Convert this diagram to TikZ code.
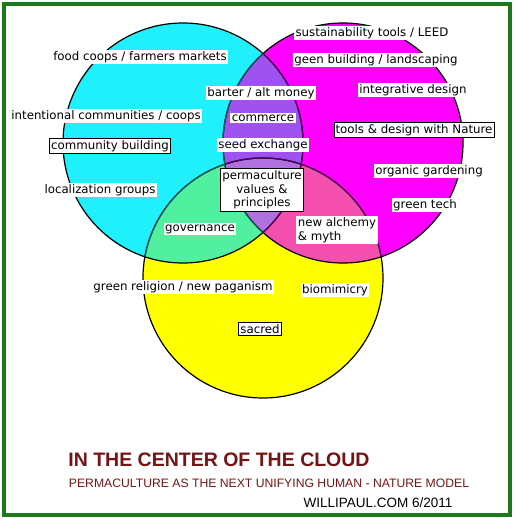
\documentclass[tikz,border=0pt]{standalone}
\usepackage{fontspec}
\setmainfont{DejaVu Sans}
\newfontfamily\titlefont{Liberation Sans}
\usetikzlibrary{positioning}

\definecolor{vcyan}{HTML}{20F0FC}
\definecolor{vmag}{HTML}{FF00FF}
\definecolor{vyel}{HTML}{FFFF00}
\definecolor{vpurple}{HTML}{A052F0}
\definecolor{vmint}{HTML}{50F0A0}
\definecolor{vpink}{HTML}{F550B0}
\definecolor{vcentre}{HTML}{B070E0}
\definecolor{titlered}{HTML}{761414}
\definecolor{framegreen}{HTML}{1C7A1C}

\tikzset{
  lbl/.style={fill=white, inner sep=1.5pt, font=\fontsize{11.8}{13.5}\selectfont},
  boxlbl/.style={lbl, draw=black, line width=0.9pt},
  rim/.style={draw=black, line width=1.2pt},
}

\begin{document}
\begin{tikzpicture}[x=1pt, y=-1pt]
  \useasboundingbox (0,0) rectangle (514,519);

  % circles
  \coordinate (cC) at (183,143);
  \coordinate (cM) at (343,143);
  \coordinate (cY) at (263,278);
  \fill[vcyan] (cC) circle[radius=120pt];
  \fill[vmag] (cM) circle[radius=120pt];
  \fill[vyel] (cY) circle[radius=120pt];
  \begin{scope}
    \clip (cM) circle[radius=120pt];
    \fill[vpink] (cY) circle[radius=120pt];
  \end{scope}
  \begin{scope}
    \clip (cC) circle[radius=120pt];
    \fill[vpurple] (cM) circle[radius=120pt];
    \fill[vmint] (cY) circle[radius=120pt];
    \clip (cM) circle[radius=120pt];
    \fill[vcentre] (cY) circle[radius=120pt];
  \end{scope}

  % outlines
  \draw[rim] (cC) circle[radius=120pt] (cM) circle[radius=120pt] (cY) circle[radius=120pt];
  \begin{scope}
    \clip (cC) circle[radius=120pt];
    \draw[line width=1.2pt, draw=teal!70!black] (cM) circle[radius=120pt] (cY) circle[radius=120pt];
  \end{scope}
  \begin{scope}
    \clip (cM) circle[radius=120pt];
    \draw[line width=1.2pt, draw=violet!70!black] (cC) circle[radius=120pt] (cY) circle[radius=120pt];
  \end{scope}

  % labels
  \node[lbl] (food) at (140,57) {food coops / farmers markets};
  \node[lbl] (intent) at (106,116) {intentional communities / coops};
  \node[boxlbl] (commbuild) at (110,146) {community building};
  \node[lbl] (local) at (100,190) {localization groups};
  \node[lbl] (gov) at (200,229) {governance};
  \node[lbl] (barter) at (261,93) {barter / alt money};
  \node[lbl] (commerce) at (263,118) {commerce};
  \node[lbl] (seed) at (263,145) {seed exchange};
  \node[boxlbl, align=center, inner sep=2pt] (perma) at (262,190) {permaculture\\values \&\\principles};
  \node[lbl, align=left] (alchemy) at (337,230) {new alchemy\\\& myth};
  \node[lbl] (sust) at (372,33) {sustainability tools / LEED};
  \node[lbl] (geen) at (376,60) {geen building / landscaping};
  \node[lbl] (integ) at (413,90) {integrative design};
  \node[boxlbl] (tools) at (414,130) {tools \& design with Nature};
  \node[lbl] (organic) at (429,171) {organic gardening};
  \node[lbl] (gtech) at (425,205) {green tech};
  \node[lbl] (religion) at (183,287) {green religion / new paganism};
  \node[lbl] (bio) at (335,290) {biomimicry};
  \node[boxlbl] (sacred) at (260,329) {sacred};

  % title block
  \node[text=titlered, font=\titlefont\bfseries\fontsize{19.5}{22}\selectfont] (title) at (219,460) {IN THE CENTER OF THE CLOUD};
  \node[text=titlered, font=\titlefont\fontsize{12.2}{14}\selectfont] (subtitle) at (269,483) {PERMACULTURE AS THE NEXT UNIFYING HUMAN - NATURE MODEL};
  \node[font=\titlefont\fontsize{13.5}{15}\selectfont] (site) at (378,503) {WILLIPAUL.COM 6/2011};

  % frame
  \draw[framegreen, line width=3.5pt] (4,4) rectangle (510,515);
\end{tikzpicture}
\end{document}
